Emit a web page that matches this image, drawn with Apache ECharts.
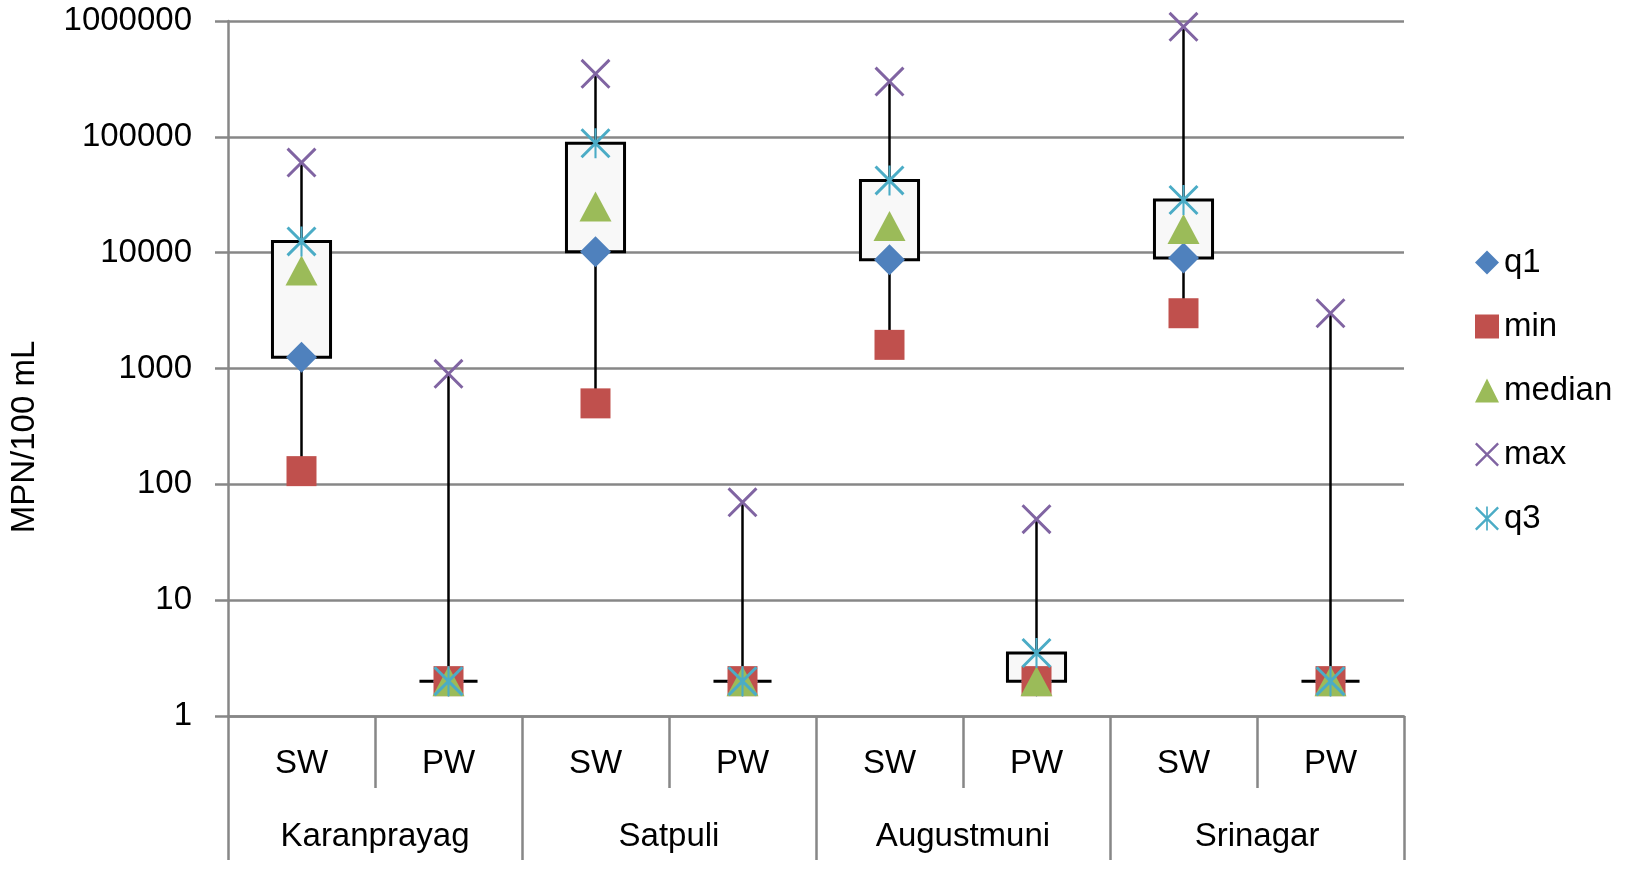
<!DOCTYPE html>
<html>
<head>
<meta charset="utf-8">
<style>
  html, body { margin: 0; padding: 0; background: #fff; }
  #chart { width: 1625px; height: 871px; }
</style>
<script src="https://cdn.jsdelivr.net/npm/echarts@6/dist/echarts.min.js"></script>
</head>
<body>
<div id="chart"></div>
<script>
// ---- data ----
const categories = ['SW', 'PW', 'SW', 'PW', 'SW', 'PW', 'SW', 'PW'];
const sites = ['Karanprayag', 'Satpuli', 'Augustmuni', 'Srinagar'];
const q1 = [1250, 2, 10200, 2, 8700, 2, 9000, 2];
const minV = [130, 2, 500, 2, 1600, 2, 3000, 2];
const median = [7000, 2, 25000, 2, 17000, 2, 16000, 2];
const maxV = [60000, 900, 350000, 70, 300000, 50, 890000, 3000];
const q3 = [12500, 2, 88000, 2, 42000, 3.5, 28500, 2];
const yTickLabels = ['1', '10', '100', '1000', '10000', '100000', '1000000'];
const yAxisTitle = 'MPN/100 mL';

// ---- styling ----
const FONT = 'Liberation Sans';
const GRID_COLOR = '#878787';
const X_PATH = 'path://M0,7L7,0L100,93L93,100ZM93,0L100,7L7,100L0,93Z';
const STAR_PATH = 'path://M0,7L7,0L100,93L93,100ZM93,0L100,7L7,100L0,93ZM46.5,0L53.5,0L53.5,100L46.5,100Z';

const boxData = categories.map((c, i) => [i, minV[i], q1[i], q3[i], maxV[i]]);
const pairs = arr => arr.map((v, i) => [i, v]);

function renderBox(params, api) {
  const i = api.value(0);
  const pMax = api.coord([i, api.value(4)]);
  const pMin = api.coord([i, api.value(1)]);
  const pQ1 = api.coord([i, api.value(2)]);
  const pQ3 = api.coord([i, api.value(3)]);
  const bw = api.size([1, 0])[0] * 0.395;
  return {
    type: 'group',
    children: [
      { type: 'line', shape: { x1: pMax[0], y1: pMax[1], x2: pMin[0], y2: pMin[1] },
        style: { stroke: '#000', lineWidth: 2.5 } },
      { type: 'rect', shape: { x: pQ3[0] - bw / 2, y: pQ3[1], width: bw, height: pQ1[1] - pQ3[1] },
        style: { fill: '#f8f8f8', stroke: '#000', lineWidth: 3 } }
    ]
  };
}

const chart = echarts.init(document.getElementById('chart'), null, { renderer: 'canvas' });
const option = {
  animation: false,
  backgroundColor: '#fff',
  textStyle: { fontFamily: FONT },
  grid: { left: 228, right: 221, top: 21, bottom: 155, containLabel: false },
  legend: {
    orient: 'vertical',
    left: 1470,
    top: 241,
    itemWidth: 24,
    itemHeight: 24,
    itemGap: 31,
    textStyle: { fontFamily: FONT, fontSize: 33, color: '#000' },
    data: ['q1', 'min', 'median', 'max', 'q3']
  },
  graphic: [{
    type: 'text',
    x: 25, y: 437,
    rotation: Math.PI / 2,
    style: { text: yAxisTitle, font: '33px "Liberation Sans"', fill: '#000', align: 'center', verticalAlign: 'middle' }
  }],
  xAxis: [{
    type: 'category',
    data: categories,
    position: 'bottom',
    boundaryGap: true,
    axisLine: { show: true, onZero: false, lineStyle: { color: GRID_COLOR, width: 2.5 } },
    axisTick: { show: true, interval: 0, length: 72, lineStyle: { color: GRID_COLOR, width: 2.5 } },
    axisLabel: { interval: 0, margin: 31, fontFamily: FONT, fontSize: 33, color: '#000' },
    splitLine: { show: false }
  }, {
    type: 'category',
    data: sites,
    position: 'bottom',
    boundaryGap: true,
    axisLine: { show: false, onZero: false },
    axisTick: { show: true, interval: 0, length: 144, lineStyle: { color: GRID_COLOR, width: 2.5 } },
    axisLabel: { interval: 0, margin: 104, fontFamily: FONT, fontSize: 33, color: '#000' },
    splitLine: { show: false }
  }],
  yAxis: {
    type: 'log',
    logBase: 10,
    min: 1,
    max: 1000000,
    axisLine: { show: true, lineStyle: { color: GRID_COLOR, width: 2.5 } },
    axisTick: { show: true, length: 13, lineStyle: { color: GRID_COLOR, width: 2.5 } },
    axisLabel: {
      margin: 36, fontFamily: FONT, fontSize: 33, color: '#000',
      formatter: v => yTickLabels[Math.round(Math.log10(v))]
    },
    splitLine: { show: true, lineStyle: { color: GRID_COLOR, width: 2.5 } }
  },
  series: [{
    type: 'custom',
    name: 'box',
    xAxisIndex: 0,
    renderItem: renderBox,
    encode: { x: 0, y: [1, 2, 3, 4] },
    data: boxData,
    z: 1
  }, {
    type: 'scatter', name: 'q1', data: pairs(q1), symbol: 'diamond', symbolSize: 31,
    itemStyle: { color: '#4F81BD', opacity: 1 }, z: 2
  }, {
    type: 'scatter', name: 'min', data: pairs(minV), symbol: 'rect', symbolSize: 30,
    itemStyle: { color: '#C0504D', opacity: 1 }, z: 3
  }, {
    type: 'scatter', name: 'median', data: pairs(median), symbol: 'triangle', symbolSize: [32, 30],
    itemStyle: { color: '#9BBB59', opacity: 1 }, z: 4
  }, {
    type: 'scatter', name: 'max', data: pairs(maxV), symbol: X_PATH, symbolSize: 30,
    itemStyle: { color: '#8064A2', opacity: 1 }, z: 5
  }, {
    type: 'scatter', name: 'q3', data: pairs(q3), symbol: STAR_PATH, symbolSize: 30,
    itemStyle: { color: '#4BACC6', opacity: 1 }, z: 6
  }]
};
chart.setOption(option);
</script>
</body>
</html>
